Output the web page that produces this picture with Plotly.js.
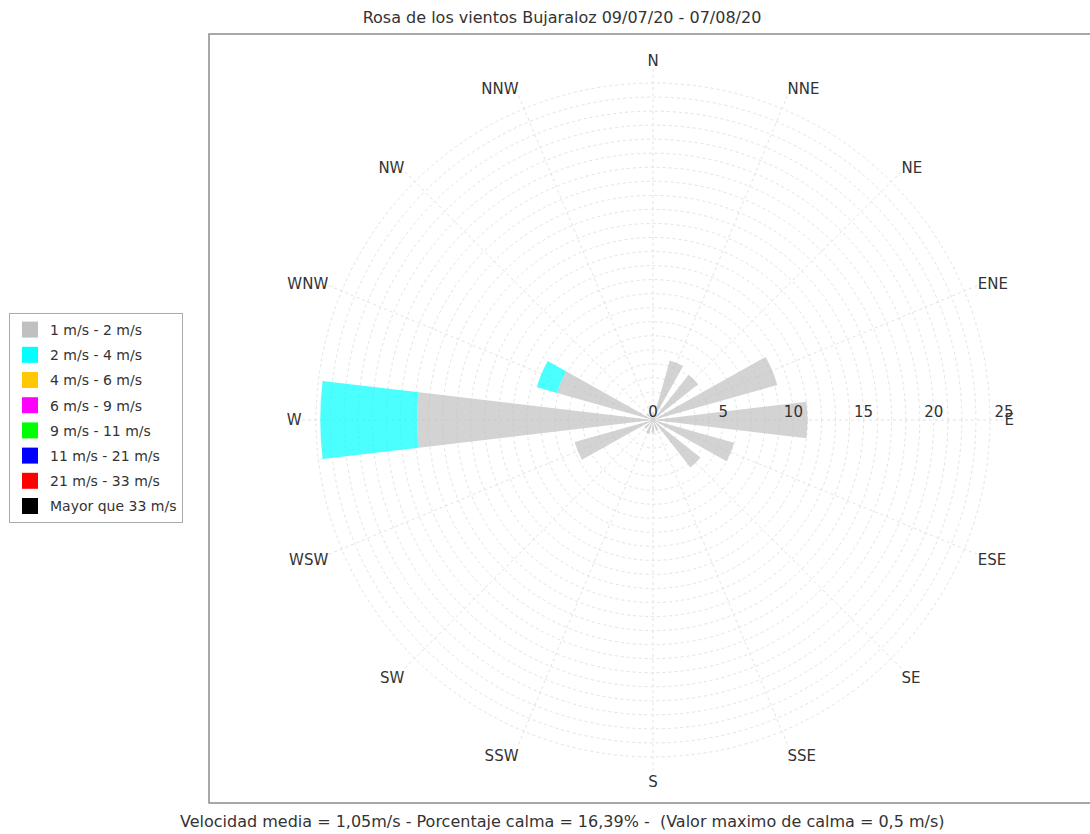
<!DOCTYPE html>
<html>
<head>
<meta charset="utf-8">
<script src="https://cdn.plot.ly/plotly-3.0.1.min.js"></script>
<style>
  html, body { margin: 0; padding: 0; background: #fff; }
  #chart { width: 1090px; height: 834px; }
</style>
</head>
<body>
<div id="chart"></div>
<script>
// ---- data ----
const directions = ['N','NNE','NE','ENE','E','ESE','SE','SSE','S','SSW','SW','WSW','W','WNW','NW','NNW'];
const speedClasses = ['1 m/s - 2 m/s','2 m/s - 4 m/s','4 m/s - 6 m/s','6 m/s - 9 m/s','9 m/s - 11 m/s','11 m/s - 21 m/s','21 m/s - 33 m/s','Mayor que 33 m/s'];
const freq1to2   = [0.5, 4.4, 4.1, 9.2, 11.0, 6.0, 4.3, 0.8, 0.9, 1.0, 0.8, 5.8, 16.8, 7.1, 0.6, 0.5];
const freq2to4   = [0, 0, 0, 0, 0, 0, 0, 0, 0, 0, 0, 0, 6.9, 1.5, 0, 0];
const freq4to6   = [0, 0, 0, 0, 0, 0, 0, 0, 0, 0, 0, 0, 0, 0, 0, 0];
const freq6to9   = [0, 0, 0, 0, 0, 0, 0, 0, 0, 0, 0, 0, 0, 0, 0, 0];
const freq9to11  = [0, 0, 0, 0, 0, 0, 0, 0, 0, 0, 0, 0, 0, 0, 0, 0];
const freq11to21 = [0, 0, 0, 0, 0, 0, 0, 0, 0, 0, 0, 0, 0, 0, 0, 0];
const freq21to33 = [0, 0, 0, 0, 0, 0, 0, 0, 0, 0, 0, 0, 0, 0, 0, 0];
const freqOver33 = [0, 0, 0, 0, 0, 0, 0, 0, 0, 0, 0, 0, 0, 0, 0, 0];
const radialTickVals = [0,1,2,3,4,5,6,7,8,9,10,11,12,13,14,15,16,17,18,19,20,21,22,23,24,25];
const radialTickText = ['0','','','','','5','','','','','10','','','','','15','','','','','20','','','','','25'];
const chartTitle = 'Rosa de los vientos Bujaraloz 09/07/20 - 07/08/20';
const footerText = 'Velocidad media = 1,05m/s - Porcentaje calma = 16,39% -  (Valor maximo de calma = 0,5 m/s)';

// ---- style ----
const series = [freq1to2, freq2to4, freq4to6, freq6to9, freq9to11, freq11to21, freq21to33, freqOver33];
const swatchColors = ['rgb(192,192,192)','rgb(0,255,255)','rgb(255,200,0)','rgb(255,0,255)','rgb(0,255,0)','rgb(0,0,255)','rgb(255,0,0)','rgb(0,0,0)'];
const barColors = ['rgba(192,192,192,0.7)','rgba(0,255,255,0.7)','rgba(255,200,0,0.7)','rgba(255,0,255,0.7)','rgba(0,255,0,0.7)','rgba(0,0,255,0.7)','rgba(255,0,0,0.7)','rgba(0,0,0,0.7)'];
const FONT = 'DejaVu Sans, Liberation Sans, sans-serif';
const W = 1090, H = 834;
const cx = 653, cy = 420, R = 351;

const traces = [];
series.forEach((vals, i) => {
  traces.push({
    type: 'barpolar',
    r: vals,
    theta: directions,
    width: 0.6,
    name: speedClasses[i],
    marker: { color: barColors[i], line: { width: 0 } },
    showlegend: false,
    hoverinfo: 'skip'
  });
});
speedClasses.forEach((name, i) => {
  traces.push({
    type: 'scatterpolar',
    r: [null],
    theta: [null],
    mode: 'markers',
    name: name,
    legendgroup: 'g' + i,
    marker: { symbol: 'square', size: 16, color: swatchColors[i], line: { width: 0 } },
    showlegend: true,
    hoverinfo: 'skip'
  });
});

const layout = {
  width: W, height: H,
  margin: { l: 0, r: 0, t: 0, b: 0 },
  paper_bgcolor: '#ffffff',
  font: { family: FONT, size: 14, color: '#333333' },
  title: {
    text: chartTitle,
    font: { family: FONT, size: 16, color: '#333333' },
    x: 562 / W, xref: 'paper', xanchor: 'center',
    y: 1 - 17 / H, yref: 'paper', yanchor: 'middle'
  },
  showlegend: true,
  legend: {
    x: 9 / W, xanchor: 'left',
    y: 1 - 313 / H, yanchor: 'top',
    bgcolor: '#ffffff',
    bordercolor: '#aaaaaa', borderwidth: 1,
    font: { family: FONT, size: 14, color: '#333333' },
    tracegroupgap: 4,
    itemclick: false
  },
  polar: {
    domain: { x: [(cx - R) / W, (cx + R) / W], y: [(H - cy - R) / H, (H - cy + R) / H] },
    bgcolor: '#ffffff',
    barmode: 'stack',
    hole: 0,
    angularaxis: {
      type: 'category',
      categoryorder: 'array',
      categoryarray: directions,
      rotation: 90,
      direction: 'clockwise',
      showline: false,
      ticks: '',
      showgrid: true,
      gridcolor: '#e3e3e3',
      griddash: 'dot',
      gridwidth: 1,
      tickfont: { family: FONT, size: 15, color: '#333333' }
    },
    radialaxis: {
      range: [0, 25],
      angle: 0,
      side: 'counterclockwise',
      tickmode: 'array',
      tickvals: radialTickVals,
      ticktext: radialTickText,
      showline: false,
      ticks: '',
      showgrid: true,
      gridcolor: '#e3e3e3',
      griddash: 'dot',
      gridwidth: 1,
      tickangle: 0,
      tickfont: { family: FONT, size: 15, color: '#333333' }
    }
  },
  shapes: [
    {
      type: 'rect', xref: 'paper', yref: 'paper',
      x0: 209 / W, x1: 1.01, y0: 1 - 803 / H, y1: 1 - 34 / H,
      line: { color: '#8c8c8c', width: 1.5 },
      fillcolor: 'rgba(0,0,0,0)',
      layer: 'below'
    }
  ],
  annotations: [
    {
      text: footerText,
      xref: 'paper', yref: 'paper',
      x: 562 / W, xanchor: 'center',
      y: 1 - 821 / H, yanchor: 'middle',
      showarrow: false,
      font: { family: FONT, size: 16, color: '#333333' }
    }
  ]
};

Plotly.newPlot('chart', traces, layout, { displayModeBar: false, staticPlot: true });
</script>
</body>
</html>
